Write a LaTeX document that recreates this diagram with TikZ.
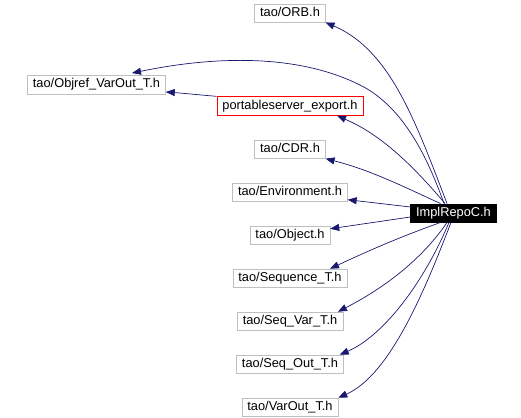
\documentclass[tikz,border=0pt]{standalone}
\usepackage{fontspec}
\setmainfont{Liberation Sans}
\usetikzlibrary{arrows.meta,positioning}
\definecolor{edgeblue}{RGB}{25,25,112}
\definecolor{boxgray}{RGB}{191,191,191}
\definecolor{boxred}{RGB}{255,0,0}
\begin{document}
\begin{tikzpicture}[x=1pt,y=-1pt,node distance=24.1pt,
    file/.style={draw=boxgray,rectangle,minimum height=18.5pt,inner xsep=5.5pt,inner ysep=0pt,
      text height=9.2pt,text depth=2.6pt,font=\fontsize{12.8}{15}\selectfont},
    dep/.style={draw=edgeblue,line width=0.7pt,-{Triangle[length=9pt,width=7pt,fill=edgeblue]}}]
      \useasboundingbox (0,0) rectangle (521,417);
      \node[file] (orb) at (290,13) {tao/ORB.h};
      \node[file] (objref) at (96.5,84.5) {tao/Objref\_VarOut\_T.h};
      \node[file,draw=boxred,line width=0.8pt] (pse) at (290,106) {portableserver\_export.h};
      \node[file,below=of pse] (cdr) {tao/CDR.h};
      \node[file,below=of cdr] (env) {tao/Environment.h};
      \node[file,below=of env] (obj) {tao/Object.h};
      \node[file,below=of obj] (seq) {tao/Sequence\_T.h};
      \node[file,below=of seq] (sv) {tao/Seq\_Var\_T.h};
      \node[file,below=of sv] (so) {tao/Seq\_Out\_T.h};
      \node[file,below=of so] (vo) {tao/VarOut\_T.h};
      \node[file,draw=black,fill=black,text=white] (root) at (453.5,213) {ImplRepoC.h};
      \draw[dep] ([xshift=-6.5pt]root.north) .. controls (415,120) and (390,50) .. (orb.south east);
      \draw[dep] ([xshift=-9.5pt]root.north) .. controls (425,150) and (400,105) .. (360,85)
        .. controls (300,55) and (220,55) .. ([xshift=35.5pt,yshift=2pt]objref.north);
      \draw[dep] ([xshift=-8.5pt]root.north) .. controls (400,150) and (370,130) .. ([xshift=47pt]pse.south);
      \draw[dep] (pse.north west) .. controls (195,94) .. ([yshift=2pt]objref.south east);
      \draw[dep] ([xshift=-13pt]root.north) .. controls (400,185) and (370,170) .. (cdr.south east);
      \draw[dep] ([yshift=6pt]root.west) -- ([yshift=-7.5pt]env.east);
      \draw[dep] ([yshift=-4pt]root.west) -- ([yshift=-3pt]obj.north east);
      \draw[dep] ([xshift=-13pt]root.south) .. controls (400,237) and (370,250) .. ([xshift=40pt]seq.north);
      \draw[dep] ([xshift=-6.5pt]root.south) .. controls (425,255) and (390,285) .. ([xshift=-5pt]sv.north east);
      \draw[dep] ([xshift=-4.5pt]root.south) .. controls (425,280) and (385,335) .. ([xshift=-4pt]so.north east);
      \draw[dep] ([xshift=-2.5pt]root.south) .. controls (425,290) and (390,375) .. (vo.north east);
    \end{tikzpicture}
\end{document}
